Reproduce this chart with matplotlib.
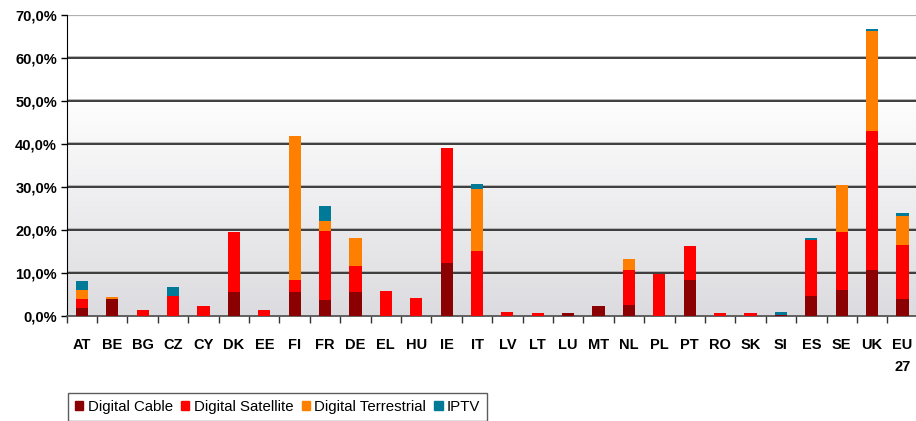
import numpy as np
import matplotlib.pyplot as plt
from matplotlib.patches import Patch

countries = ["AT", "BE", "BG", "CZ", "CY", "DK", "EE", "FI", "FR", "DE", "EL", "HU", "IE", "IT",
             "LV", "LT", "LU", "MT", "NL", "PL", "PT", "RO", "SK", "SI", "ES", "SE", "UK", "EU\n27"]
cable       = [1.8, 3.9, 0.0, 0.0, 0.0, 5.5, 0.0, 5.5, 3.6, 5.5, 0.0, 0.0, 12.3, 0.0,
               0.0, 0.0, 0.6, 2.3, 2.5, 0.0, 8.3, 0.0, 0.0, 0.2, 4.6, 6.0, 10.6, 3.9]
satellite   = [2.1, 0.0, 1.3, 4.6, 2.3, 14.0, 1.3, 2.8, 16.1, 6.1, 5.8, 4.1, 26.7, 15.0,
               0.9, 0.6, 0.0, 0.0, 8.1, 9.7, 7.9, 0.6, 0.6, 0.0, 13.0, 13.5, 32.4, 12.5]
terrestrial = [2.1, 0.4, 0.0, 0.0, 0.0, 0.0, 0.0, 33.5, 2.3, 6.5, 0.0, 0.0, 0.0, 14.5,
               0.0, 0.0, 0.0, 0.0, 2.6, 0.0, 0.0, 0.0, 0.0, 0.0, 0.0, 10.9, 23.2, 6.8]
iptv        = [2.1, 0.0, 0.0, 2.0, 0.0, 0.0, 0.0, 0.0, 3.5, 0.0, 0.0, 0.0, 0.0, 1.1,
               0.0, 0.0, 0.0, 0.0, 0.0, 0.0, 0.0, 0.0, 0.0, 0.7, 0.5, 0.0, 0.5, 0.7]

series = [("Digital Cable", cable, "#8b0000"),
          ("Digital Satellite", satellite, "#ff0000"),
          ("Digital Terrestrial", terrestrial, "#ff8000"),
          ("IPTV", iptv, "#007a96")]

plt.rcParams['font.family'] = ['Liberation Sans', 'DejaVu Sans']

fig = plt.figure(figsize=(9.16, 4.21), dpi=100)
ax = fig.add_axes([66.7 / 916, 105.3 / 421, 851 / 916, 301 / 421])

x = np.arange(len(countries))
ax.set_xlim(-0.5, len(countries) - 0.5)
ax.set_ylim(0, 70)

# background gradient: white on top, light grey at the bottom
grad = np.clip(np.linspace(0, 70, 256) / 52, 0, 1).reshape(-1, 1)
cmap = plt.matplotlib.colors.LinearSegmentedColormap.from_list("bg", ["#dcdce0", "#ffffff"])
ax.imshow(grad, extent=(-0.5, len(countries) - 0.5, 0, 70), origin="lower",
          aspect="auto", cmap=cmap, zorder=0)

for y in range(10, 70, 10):
    ax.axhline(y + 0.3, color="#b4b4b4", lw=0.7, zorder=1)
    ax.axhline(y, color="#2e2e2e", lw=1.3, zorder=1)
ax.axhline(70, color="#b0b0b0", lw=1.6, zorder=1)

bottom = np.zeros(len(countries))
for name, vals, col in series:
    vals = np.array(vals)
    ax.bar(x, vals, width=0.4, bottom=bottom, color=col, zorder=3)
    bottom += vals

for s in ["top", "right"]:
    ax.spines[s].set_visible(False)
ax.spines["left"].set_color("black")
ax.spines["bottom"].set_color("#555555")
ax.spines["bottom"].set_linewidth(1.3)

ax.set_yticks(range(0, 80, 10))
ax.set_yticklabels([f"{v},0%" for v in range(0, 80, 10)], fontsize=10.5, fontweight="bold")
ax.tick_params(axis="y", length=4, width=1, pad=3)

ax.set_xticks(x)
ax.set_xticklabels(countries, fontsize=10.5, fontweight="bold", linespacing=1.7)
ax.tick_params(axis="x", length=0, pad=16)
ax.set_xticks(np.arange(-0.5, len(countries), 1), minor=True)
ax.tick_params(axis="x", which="minor", length=5, width=1, color="#333333")

handles = [Patch(color=c, label=n) for n, _, c in series]
fig.legend(handles=handles, loc="upper left", bbox_to_anchor=(68 / 916, 1 - 393 / 421),
           ncol=4, fontsize=10.8, frameon=True, fancybox=False, edgecolor="#333333",
           handlelength=0.55, handleheight=0.6, handletextpad=0.3, columnspacing=0.55,
           borderaxespad=0, borderpad=0.45)

fig.savefig("out.png", dpi=100)
